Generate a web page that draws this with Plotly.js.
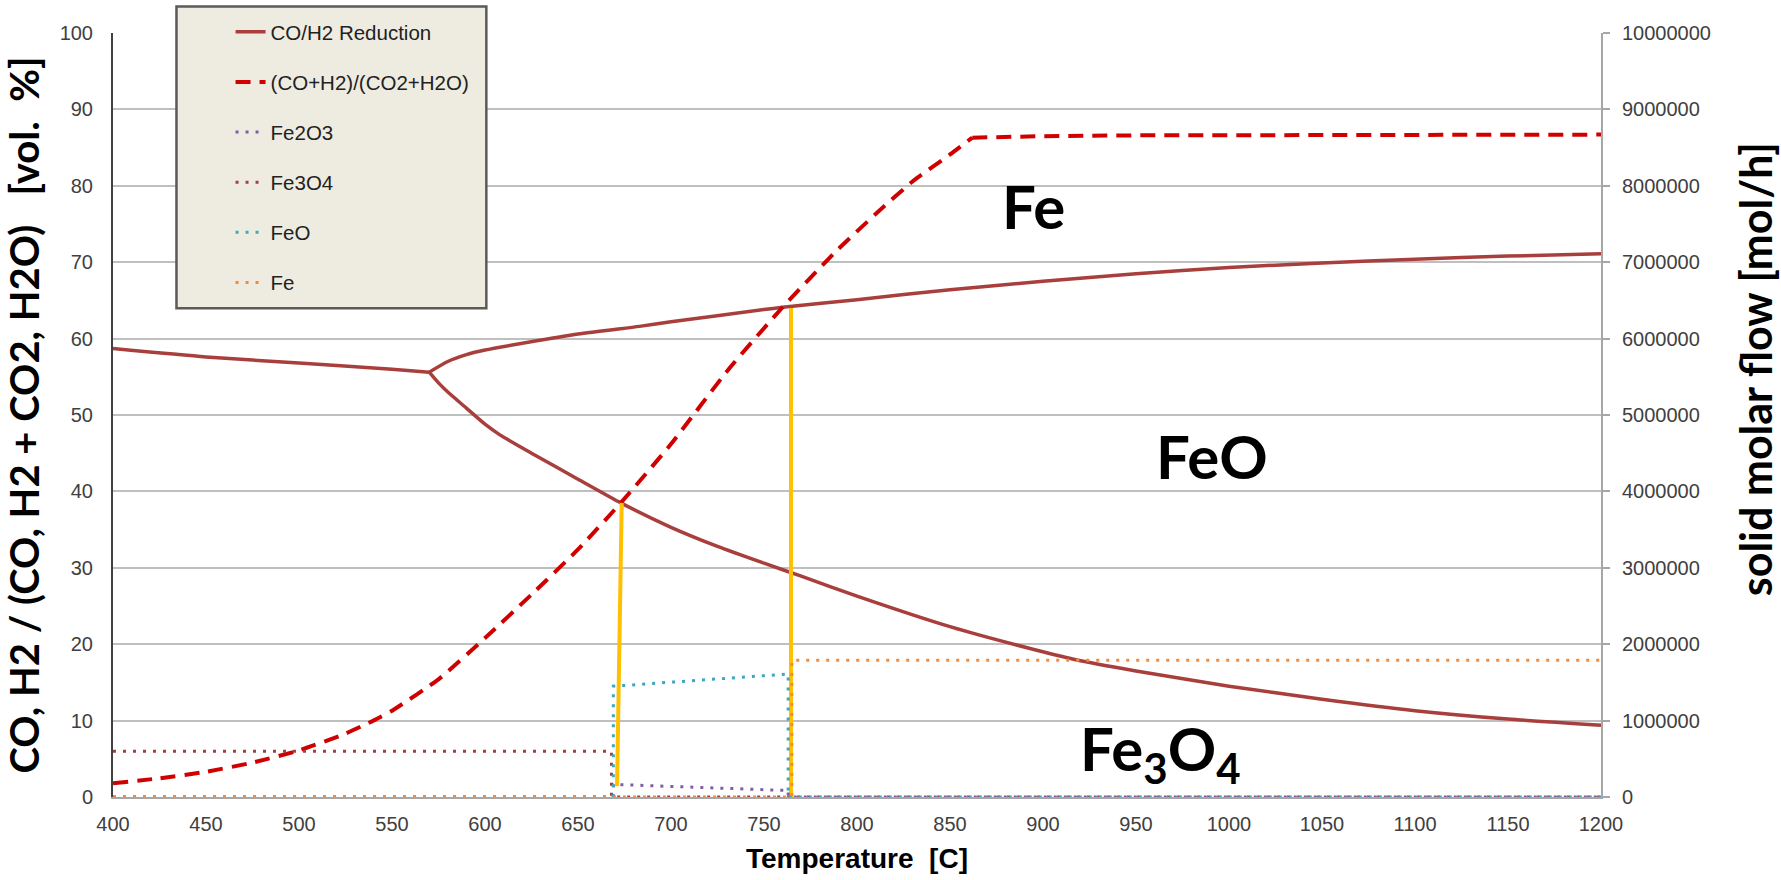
<!DOCTYPE html>
<html>
<head>
<meta charset="utf-8">
<script src="https://cdn.plot.ly/plotly-3.0.1.min.js"></script>
<style>
  html, body { margin: 0; padding: 0; background: #ffffff; }
  #chart { width: 1781px; height: 880px; }
</style>
</head>
<body>
<div id="chart"></div>
<script>
// ---- Data ----
// CO/H2 reduction equilibrium lines (left axis, vol. %)
const tempFe3O4Fe = [400, 450, 500, 550, 570];
const coH2Fe3O4Fe = [58.7, 57.6, 56.8, 56.0, 55.6];

const tempFeOFe = [570, 580, 590, 600, 650, 683, 700, 750, 760, 800, 850, 900, 950, 1000, 1050, 1100, 1150, 1200];
const coH2FeOFe = [55.6, 57.0, 57.9, 58.5, 60.6, 61.6, 62.2, 63.8, 64.1, 65.1, 66.4, 67.5, 68.5, 69.3, 69.9, 70.4, 70.8, 71.1];

const tempFe3O4FeO = [570, 575, 580, 590, 600, 608, 625, 650, 673, 700, 725, 750, 770, 800, 850, 892, 917, 950, 1000, 1050, 1100, 1150, 1200];
const coH2Fe3O4FeO = [55.6, 54.2, 53.0, 50.9, 48.8, 47.4, 45.0, 41.6, 38.5, 35.3, 32.8, 30.6, 28.9, 26.3, 22.3, 19.5, 18.0, 16.5, 14.5, 12.8, 11.3, 10.2, 9.4];

// (CO+H2)/(CO2+H2O) ratio curve: rising part and plateau
const tempRatioRise = [400, 425, 450, 475, 500, 525, 540, 550, 575, 600, 625, 650, 673, 700, 731, 760, 789, 810, 830, 850, 862];
const ratioRise = [1.8, 2.45, 3.3, 4.5, 6.1, 8.3, 10.0, 11.3, 15.4, 20.8, 26.5, 32.4, 38.5, 46.2, 56.0, 64.1, 71.5, 76.3, 80.6, 84.1, 86.3];
const tempRatioFlat = [862, 900, 950, 1000, 1100, 1200];
const ratioFlat = [86.3, 86.5, 86.6, 86.6, 86.7, 86.7];

// Solid molar flows (right axis, mol/h)
const tempFe2O3 = [400, 669, 669, 763, 763, 1200];
const flowFe2O3 = [0, 0, 165000, 85000, 0, 0];

const tempFe3O4 = [400, 668, 668, 1200];
const flowFe3O4 = [600000, 600000, 0, 0];

const tempFeO = [400, 669, 669, 763, 763, 1200];
const flowFeO = [0, 0, 1450000, 1610000, 0, 0];

const tempFe = [400, 765, 765, 1200];
const flowFe = [0, 0, 1790000, 1790000];

// Transition markers (yellow lines)
const tempMarker1 = [671, 673.5];
const valMarker1 = [1.4, 38.5];
const tempMarker2 = [764.5, 764.5];
const valMarker2 = [0, 64.0];

// Axis ticks
const xTicks = [400, 450, 500, 550, 600, 650, 700, 750, 800, 850, 900, 950, 1000, 1050, 1100, 1150, 1200];
const yTicks = [0, 10, 20, 30, 40, 50, 60, 70, 80, 90, 100];
const y2Ticks = [0, 1000000, 2000000, 3000000, 4000000, 5000000, 6000000, 7000000, 8000000, 9000000, 10000000];

// Phase labels
const phaseLabels = ['Fe', 'FeO', 'Fe<sub>3</sub>O<sub>4</sub>'];
const phaseLabelT = [895, 991, 963];
const phaseLabelV = [77.3, 44.6, 5.8];

// ---- Styling ----
const cSolid = '#A83F3C';
const cDash = '#D00000';
const cFe2O3 = '#7C5FA6';
const cFe3O4 = '#A3403F';
const cFeO = '#3FA6C2';
const cFe = '#F08A3C';
const cYellow = '#FFC000';
const dotDash = '3px,7px';
const NB = '\u00A0';

const legendFont = {family: 'Liberation Sans, Arial, sans-serif', size: 20.5, color: '#222222'};
const solidLine = {color: cSolid, width: 3.5, shape: 'spline', smoothing: 0.6};
const dashLine = {color: cDash, width: 4, dash: '15px,9px', shape: 'spline', smoothing: 0.5};

const traces = [
  {x: tempFe3O4Fe, y: coH2Fe3O4Fe, name: 'CO/H2 Reduction', legendgroup: 'g1', mode: 'lines', line: solidLine},
  {x: tempFeOFe, y: coH2FeOFe, name: 'CO/H2 Reduction', legendgroup: 'g1', showlegend: false, mode: 'lines', line: solidLine},
  {x: tempFe3O4FeO, y: coH2Fe3O4FeO, name: 'CO/H2 Reduction', legendgroup: 'g1', showlegend: false, mode: 'lines', line: solidLine},
  {x: tempRatioRise, y: ratioRise, name: '(CO+H2)/(CO2+H2O)', legendgroup: 'g2', mode: 'lines', line: dashLine},
  {x: tempRatioFlat, y: ratioFlat, name: '(CO+H2)/(CO2+H2O)', legendgroup: 'g2', showlegend: false, mode: 'lines',
   line: {color: cDash, width: 4, dash: '15px,9px'}},
  {x: tempFe2O3, y: flowFe2O3, yaxis: 'y2', name: 'Fe2O3', legendgroup: 'g3', mode: 'lines',
   line: {color: cFe2O3, width: 3, dash: dotDash}},
  {x: tempFe3O4, y: flowFe3O4, yaxis: 'y2', name: 'Fe3O4', legendgroup: 'g4', mode: 'lines',
   line: {color: cFe3O4, width: 3, dash: dotDash}},
  {x: tempFeO, y: flowFeO, yaxis: 'y2', name: 'FeO', legendgroup: 'g5', mode: 'lines',
   line: {color: cFeO, width: 3, dash: dotDash}},
  {x: tempFe, y: flowFe, yaxis: 'y2', name: 'Fe', legendgroup: 'g6', mode: 'lines',
   line: {color: cFe, width: 3, dash: dotDash}},
  {x: tempMarker1, y: valMarker1, showlegend: false, mode: 'lines', hoverinfo: 'skip',
   line: {color: cYellow, width: 4}},
  {x: tempMarker2, y: valMarker2, showlegend: false, mode: 'lines', hoverinfo: 'skip',
   line: {color: cYellow, width: 4}}
];

const tickFont = {family: 'Liberation Sans, Arial, sans-serif', size: 20, color: '#404040'};

const annotations = phaseLabels.map((t, i) => ({
  text: t, x: phaseLabelT[i], y: phaseLabelV[i], xref: 'x', yref: 'y',
  showarrow: false, xanchor: 'center', yanchor: 'middle',
  font: {family: 'Lato, Noto Sans, sans-serif', size: 60, color: '#000000', weight: 700}
}));
annotations.push({
  text: 'solid molar flow [mol/h]', textangle: -90, xref: 'paper', yref: 'paper',
  x: 1.1035, y: 0.56, showarrow: false, xanchor: 'center', yanchor: 'middle',
  font: {family: 'Lato, Noto Sans, sans-serif', size: 43, color: '#000000', weight: 700}
});

const layout = {
  width: 1781, height: 880,
  margin: {l: 112.5, r: 180, t: 32.5, b: 83, autoexpand: false},
  paper_bgcolor: '#ffffff', plot_bgcolor: '#ffffff',
  showlegend: true,
  legend: {
    x: 0.079, y: 1.0276, xanchor: 'left', yanchor: 'top',
    bgcolor: 'rgba(0,0,0,0)', borderwidth: 0,
    font: legendFont, tracegroupgap: 20.5, traceorder: 'grouped'
  },
  xaxis: {
    range: [400, 1200], tickvals: xTicks, ticktext: xTicks.map(String),
    showgrid: false, zeroline: false, showline: true, linecolor: '#A6A6A6', linewidth: 2,
    ticks: '', ticklabelstandoff: 8, tickfont: tickFont,
    title: {text: 'Temperature' + NB + NB + '[C]', standoff: 14,
            font: {family: 'Liberation Sans, Arial, sans-serif', size: 28, color: '#000000', weight: 700}}
  },
  yaxis: {
    range: [0, 100], tickvals: yTicks, ticktext: yTicks.map(String),
    showgrid: true, gridcolor: '#BFBFBF', gridwidth: 2, zeroline: false,
    showline: true, linecolor: '#404040', linewidth: 2,
    ticks: '', ticklabelstandoff: 14, tickfont: tickFont,
    title: {text: 'CO, H2 / (CO, H2 + CO2, H2O)' + NB + NB + NB + '[vol.' + NB + NB + '%]', standoff: 10,
            font: {family: 'Lato, Noto Sans, sans-serif', size: 40, color: '#000000', weight: 700}}
  },
  yaxis2: {
    range: [0, 10000000], tickvals: y2Ticks, ticktext: y2Ticks.map(v => String(v)),
    overlaying: 'y', side: 'right', showgrid: false, zeroline: false,
    showline: true, linecolor: '#A6A6A6', linewidth: 2,
    ticks: 'outside', ticklen: 7, tickwidth: 2, tickcolor: '#A6A6A6', ticklabelstandoff: 8,
    tickfont: tickFont
  },
  shapes: [{
    type: 'rect', xref: 'paper', yref: 'paper', layer: 'above',
    x0: 0.04266, x1: 0.2509, y0: 0.6396, y1: 1.0347,
    fillcolor: '#EEECE1', line: {color: '#5A5A5A', width: 2.5}
  }],
  annotations: annotations
};

Plotly.newPlot('chart', traces, layout, {displayModeBar: false, staticPlot: true});
</script>
</body>
</html>
